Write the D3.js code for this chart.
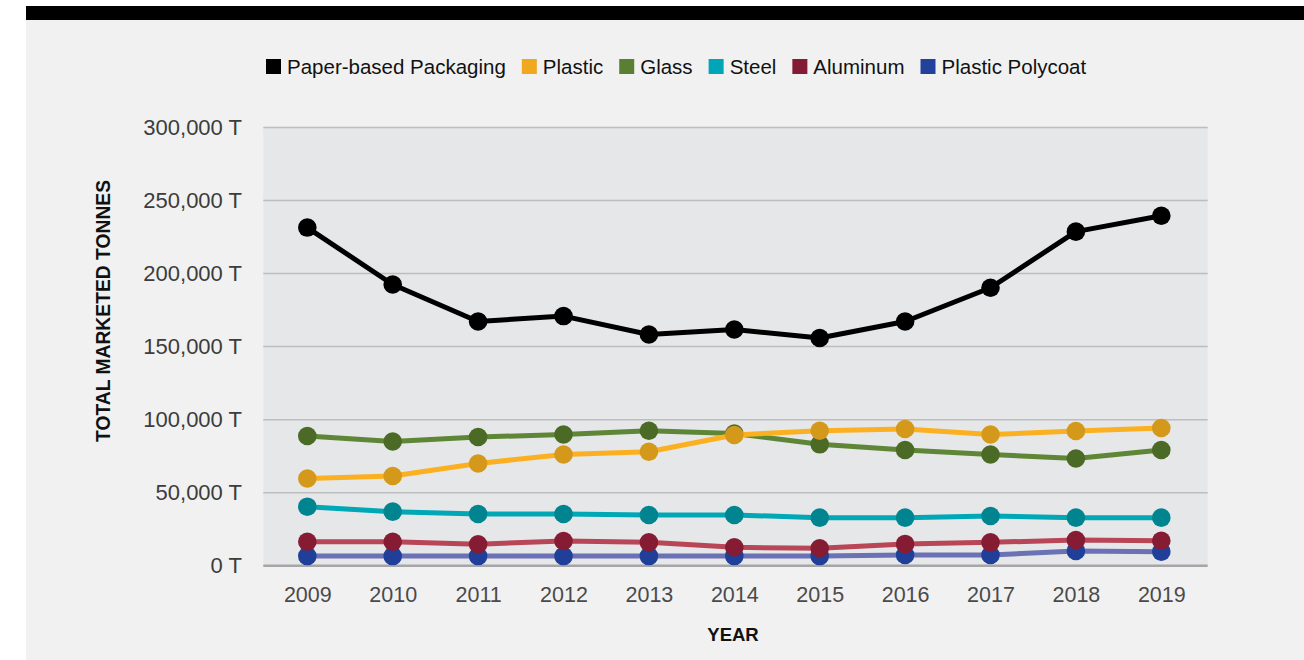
<!DOCTYPE html>
<html>
<head>
<meta charset="utf-8">
<script src="https://cdn.jsdelivr.net/npm/d3@7"></script>
<style>
  html, body { margin: 0; padding: 0; background: #ffffff; }
  svg { display: block; }
  text { font-family: "Liberation Sans", Arial, Helvetica, sans-serif; }
</style>
</head>
<body>
<svg id="chart" width="1304" height="660"></svg>
<script>
// ---- data ----
const years = ["2009","2010","2011","2012","2013","2014","2015","2016","2017","2018","2019"];
const seriesNames = ["Paper-based Packaging","Plastic","Glass","Steel","Aluminum","Plastic Polycoat"];
const paper    = [231500,192500,167200,170900,158300,161700,155900,167200,190300,228700,239600];
const plastic  = [59700,61400,70000,76100,78000,89500,92400,93600,89800,92200,94300];
const glass    = [88800,85000,88100,89800,92400,90500,83100,79200,76100,73400,79200];
const steel    = [40400,37000,35400,35400,34700,34700,32900,32900,34000,32900,32900];
const aluminum = [16400,16400,14700,16900,16000,12600,11900,14900,16000,17600,17100];
const polycoat = [6600,6600,6600,6600,6600,6600,6600,7300,7300,10100,9600];
const yTicks = [0,50000,100000,150000,200000,250000,300000];

const swatchColors = ["#000000","#f0a81e","#5b7f32","#00a6b7","#841b34","#22419a"];
const lineColors   = ["#000000","#fbb022","#5e8636","#00a7b5","#b84656","#6a71b5"];
const markerColors = ["#000000","#d4991a","#4a6a25","#008590","#861c34","#1f3f98"];
const values = [paper, plastic, glass, steel, aluminum, polycoat];

// ---- layout ----
const svg = d3.select("#chart");
const plot = {left: 263.3, right: 1207.7, top: 127.5, bottom: 565.7};

// backgrounds
svg.append("rect").attr("x", 26).attr("y", 20).attr("width", 1304 - 26).attr("height", 640).attr("fill", "#f1f1f1");
svg.append("rect").attr("x", 26).attr("y", 6).attr("width", 1304 - 26).attr("height", 14).attr("fill", "#000");
svg.append("rect").attr("x", plot.left).attr("y", plot.top)
   .attr("width", plot.right - plot.left).attr("height", plot.bottom - plot.top).attr("fill", "#e6e7e8");

const x = d3.scalePoint().domain(years).range([307.3, 1161.3]);
const y = d3.scaleLinear().domain([0, 300000]).range([plot.bottom, plot.top]);

// gridlines
svg.append("g").selectAll("line").data(yTicks.filter(d => d > 0)).join("line")
  .attr("x1", plot.left).attr("x2", plot.right)
  .attr("y1", d => y(d)).attr("y2", d => y(d))
  .attr("stroke", "#bdbdbf").attr("stroke-width", 1.5);
svg.append("line").attr("x1", plot.left).attr("x2", plot.right)
  .attr("y1", y(0)).attr("y2", y(0)).attr("stroke", "#a6a6a8").attr("stroke-width", 2.5);

// y axis labels
const fmt = d3.format(",");
const yAxis = d3.axisLeft(y).tickValues(yTicks).tickSize(0).tickPadding(0)
  .tickFormat(d => fmt(d) + " T");
const gy = svg.append("g").attr("transform", `translate(242,0)`).call(yAxis);
gy.select(".domain").remove();
gy.selectAll("text").attr("font-size", 22).attr("fill", "#3c3c3c")
  .attr("font-family", '"Liberation Sans", Arial, sans-serif');

// x axis labels
const xAxis = d3.axisBottom(x).tickSize(0).tickPadding(0);
const gx = svg.append("g").attr("transform", `translate(0,586.5)`).call(xAxis);
gx.select(".domain").remove();
gx.selectAll("text").attr("font-size", 21.5).attr("fill", "#4a4a4a")
  .attr("font-family", '"Liberation Sans", Arial, sans-serif');

// axis titles
svg.append("text").attr("transform", "translate(110,311) rotate(-90)")
  .attr("text-anchor", "middle").attr("font-size", 19.3).attr("font-weight", "bold")
  .attr("fill", "#111").text("TOTAL MARKETED TONNES");
svg.append("text").attr("x", 733).attr("y", 641)
  .attr("text-anchor", "middle").attr("font-size", 18.5).attr("font-weight", "bold")
  .attr("fill", "#111").text("YEAR");

// series (drawn bottom-up so the first legend series sits on top)
const line = d3.line().x((d, i) => x(years[i])).y(d => y(d));
for (let s = values.length - 1; s >= 0; s--) {
  const g = svg.append("g");
  g.append("path").datum(values[s]).attr("d", line)
    .attr("fill", "none").attr("stroke", lineColors[s]).attr("stroke-width", 5)
    .attr("stroke-linejoin", "round");
  g.selectAll("circle").data(values[s]).join("circle")
    .attr("cx", (d, i) => x(years[i])).attr("cy", d => y(d)).attr("r", 9.3)
    .attr("fill", markerColors[s]);
}

// legend
const leg = svg.append("g").attr("transform", "translate(266,0)");
let lx = 0;
seriesNames.forEach((name, i) => {
  leg.append("rect").attr("x", lx).attr("y", 59).attr("width", 15).attr("height", 15)
    .attr("fill", swatchColors[i]);
  const t = leg.append("text").attr("x", lx + 21).attr("y", 74)
    .attr("font-size", 20.5).attr("fill", "#111").text(name);
  lx += 21 + t.node().getComputedTextLength() + 16;
});
</script>
</body>
</html>
